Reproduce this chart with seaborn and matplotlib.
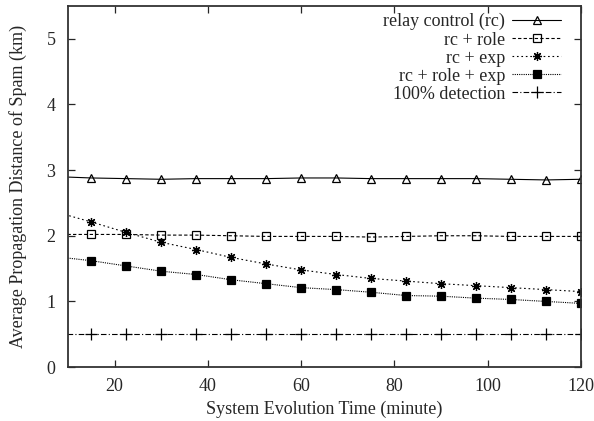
"""
    average spam propagation distance vs system evolution time
"""
import matplotlib
matplotlib.use('Agg')
import matplotlib.pyplot as plt
import numpy as np
import pandas as pd
import seaborn as sns

## data (x=7.5 point is clipped by the x range)
time_min = [7.5, 15, 22.5, 30, 37.5, 45, 52.5, 60, 67.5, 75, 82.5, 90, 97.5, 105, 112.5, 120]
relay_control = [2.90, 2.88, 2.87, 2.86, 2.87, 2.87, 2.87, 2.88, 2.88, 2.87, 2.87, 2.87, 2.87, 2.86, 2.85, 2.86]
rc_role = [2.02, 2.02, 2.02, 2.01, 2.01, 2.00, 1.99, 1.99, 1.99, 1.98, 1.99, 2.00, 2.00, 1.99, 1.99, 1.99]
rc_exp = [2.36, 2.21, 2.05, 1.90, 1.79, 1.67, 1.57, 1.48, 1.41, 1.35, 1.31, 1.27, 1.24, 1.21, 1.18, 1.15]
rc_role_exp = [1.68, 1.62, 1.54, 1.46, 1.41, 1.33, 1.27, 1.21, 1.18, 1.14, 1.09, 1.08, 1.05, 1.03, 1.00, 0.97]
detection_100 = [0.50] * 16

series_names = ['relay control (rc)', 'rc + role', 'rc + exp', 'rc + role + exp', '100% detection']
series_values = [relay_control, rc_role, rc_exp, rc_role_exp, detection_100]
markers = ['^', 's', (8, 2, 0), 's', '+']
marker_faces = ['none', 'none', 'black', 'black', 'black']
marker_sizes = [5.5, 5.5, 6.5, 6, 8]
line_styles = ['-', (0, (3, 2)), (0, (1.5, 2.5)), (0, (1, 1)), (0, (5, 2, 1, 2))]

sns.set_style('ticks')
plt.rcParams['font.family'] = ['Liberation Serif', 'DejaVu Serif']

fig = plt.figure(figsize=(5.94, 4.21), dpi=100)
ax = fig.add_axes([0.1145, 0.128, 0.8635, 0.858])

for name, vals, mk, mf, ms, ls in zip(series_names, series_values, markers, marker_faces, marker_sizes, line_styles):
    df = pd.DataFrame({'t': time_min, 'v': vals})
    sns.lineplot(data=df, x='t', y='v', ax=ax, color='black', linewidth=0.8,
                 linestyle=ls, marker=mk, markersize=ms, markerfacecolor=mf,
                 markeredgecolor='black', markeredgewidth=0.9, label=name)

ax.set_xlim(10, 120)
ax.set_ylim(0, 5.5)
ax.set_xticks([20, 40, 60, 80, 100, 120])
ax.set_yticks([0, 1, 2, 3, 4, 5])
ax.tick_params(direction='in', top=True, right=True, labelsize=13, length=5, width=0.9)
ax.tick_params(axis='x', pad=8)
ax.tick_params(axis='y', pad=9)
for s in ax.spines.values():
    s.set_linewidth(1.3)
    s.set_color('#333333')
ax.set_xlabel('System Evolution Time (minute)', fontsize=13, labelpad=4)
ax.set_ylabel('Average Propagation Distance of Spam (km)', fontsize=13, labelpad=14)

ax.legend(loc='upper right', bbox_to_anchor=(0.972, 0.995), frameon=False, markerfirst=False,
          fontsize=13, handlelength=2.7, labelspacing=0.06, borderaxespad=0.0,
          borderpad=0.3, handletextpad=0.4)

fig.savefig('out.png', dpi=100)
